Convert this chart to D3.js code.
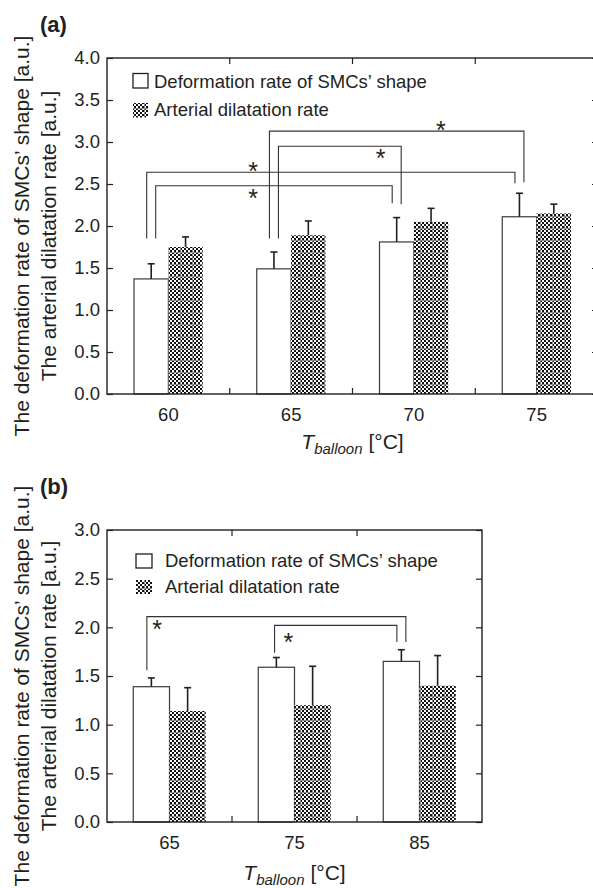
<!DOCTYPE html>
<html><head><meta charset="utf-8">
<script src="https://cdn.jsdelivr.net/npm/d3@7"></script>
<style>
body{margin:0;background:#fff}
svg{display:block}
text{font-family:"Liberation Sans",Arial,sans-serif;fill:#231f20}
</style>
</head><body>
<svg id="c" width="593" height="888"></svg>
<script>
// ---------- DATA ----------
const seriesNames = ["Deformation rate of SMCs\u2019 shape", "Arterial dilatation rate"];
const yLabelLine1 = "The deformation rate of SMCs\u2019 shape [a.u.]";
const yLabelLine2 = "The arterial dilatation rate [a.u.]";

// panel (a)
const catsA = ["60", "65", "70", "75"];
const deformA = [1.37, 1.49, 1.81, 2.11];
const deformErrA = [0.18, 0.20, 0.29, 0.28];
const dilatA = [1.75, 1.89, 2.05, 2.15];
const dilatErrA = [0.12, 0.17, 0.16, 0.11];
const yTicksA = [0, 0.5, 1.0, 1.5, 2.0, 2.5, 3.0, 3.5, 4.0];
// significance brackets: from/to category index, bracket level, leg end values
const bracketsA = [
  {from: 0, to: 3, level: 2.64, fromEnd: 1.85, toEnd: 2.51, fromSide: -1, toSide: -1, star: 0.69, starSide: "above"},
  {from: 0, to: 2, level: 2.48, fromEnd: 1.85, toEnd: 2.27, fromSide: 1, toSide: -1, star: 0.69, starSide: "below"},
  {from: 1, to: 3, level: 3.13, fromEnd: 1.85, toEnd: 2.52, fromSide: -1, toSide: 1, star: 2.22, starSide: "above"},
  {from: 1, to: 2, level: 2.95, fromEnd: 1.85, toEnd: 2.26, fromSide: 1, toSide: 1, star: 1.73, starSide: "below"}
];

// panel (b)
const catsB = ["65", "75", "85"];
const deformB = [1.39, 1.59, 1.65];
const deformErrB = [0.09, 0.10, 0.12];
const dilatB = [1.14, 1.20, 1.40];
const dilatErrB = [0.24, 0.40, 0.31];
const yTicksB = [0, 0.5, 1.0, 1.5, 2.0, 2.5, 3.0];
const bracketsB = [
  {from: 0, to: 2, level: 2.11, fromEnd: 1.56, toEnd: 1.85, fromSide: -1, toSide: 1, star: -0.10, starSide: "below"},
  {from: 1, to: 2, level: 2.02, fromEnd: 1.74, toEnd: 1.85, fromSide: -0.4, toSide: -1, star: 0.95, starSide: "below2"}
];

// ---------- DRAW ----------
const svg = d3.select("#c");
const defs = svg.append("defs");
const pat = defs.append("pattern").attr("id", "chk")
  .attr("patternUnits", "userSpaceOnUse").attr("width", 12).attr("height", 12);
pat.append("rect").attr("width", 12).attr("height", 12).attr("fill", "#fff");
for (let i = 0; i < 6; i++) for (let j = 0; j < 6; j++) {
  if ((i + j) % 2 === 0) pat.append("rect").attr("x", i * 2).attr("y", j * 2).attr("width", 2).attr("height", 2).attr("fill", "#111");
}
pat.append("line").attr("x1", 0.5).attr("x2", 0.5).attr("y1", 0).attr("y2", 12).attr("stroke", "#888").attr("stroke-width", 1);
pat.append("line").attr("y1", 0.5).attr("y2", 0.5).attr("x1", 0).attr("x2", 12).attr("stroke", "#888").attr("stroke-width", 1);

const INK = "#231f20";

function panel(cfg) {
  const g = svg.append("g");
  const x0 = d3.scaleBand().domain(cfg.cats).range([cfg.left, cfg.right]).padding(0);
  const step = x0.step();
  const gw = step * cfg.groupFrac;
  const x1 = d3.scaleBand().domain([0, 1]).range([0, gw]);
  const y = d3.scaleLinear().domain([0, cfg.ymax]).range([cfg.bottom, cfg.top]);
  const barX = (i, s) => x0(cfg.cats[i]) + (step - gw) / 2 + x1(s);
  const barC = (i, s) => barX(i, s) + x1.bandwidth() / 2;
  const catPos = d3.scaleLinear().domain([0, 1]).range([x0(cfg.cats[0]) + step / 2, x0(cfg.cats[0]) + step * 1.5]);

  // bars
  const series = [
    {vals: cfg.deform, errs: cfg.deformErr, s: 0},
    {vals: cfg.dilat, errs: cfg.dilatErr, s: 1}
  ];
  series.forEach(se => {
    g.selectAll(null).data(se.vals).enter().append("rect")
      .attr("x", (d, i) => barX(i, se.s))
      .attr("y", d => y(d))
      .attr("width", x1.bandwidth())
      .attr("height", d => y(0) - y(d))
      .attr("fill", se.s === 0 ? "#fff" : "url(#chk)")
      .attr("stroke", se.s === 0 ? "#3a3a3a" : "none")
      .attr("stroke-width", 1.2);
  });
  // error bars
  series.forEach(se => {
    se.vals.forEach((v, i) => {
      const cx = barC(i, se.s);
      g.append("line").attr("x1", cx).attr("x2", cx).attr("y1", y(v)).attr("y2", y(v + se.errs[i]))
        .attr("stroke", INK).attr("stroke-width", 1.6);
      g.append("line").attr("x1", cx - 3.5).attr("x2", cx + 3.5).attr("y1", y(v + se.errs[i])).attr("y2", y(v + se.errs[i]))
        .attr("stroke", INK).attr("stroke-width", 1.6);
    });
  });

  // brackets
  cfg.brackets.forEach(b => {
    const xa = barC(b.from, 0) + b.fromSide * 4.5;
    const xb = barC(b.to, 0) + b.toSide * 4.5;
    g.append("path")
      .attr("d", `M${xa},${y(b.fromEnd)}V${y(b.level)}H${xb}V${y(b.toEnd)}`)
      .attr("fill", "none").attr("stroke", "#333").attr("stroke-width", 1.1);
    const sy = y(b.level) + (b.starSide === "above" ? -6 : b.starSide === "below" ? 7 : 12);
    g.append("text").attr("x", catPos(b.star)).attr("y", sy + 14)
      .attr("text-anchor", "middle").style("font-size", "25px").text("*");
  });

  // frame
  g.append("rect").attr("x", cfg.left).attr("y", cfg.top)
    .attr("width", cfg.right - cfg.left).attr("height", cfg.bottom - cfg.top)
    .attr("fill", "none").attr("stroke", INK).attr("stroke-width", 1.4);

  // y axes
  const ya = g.append("g").attr("transform", `translate(${cfg.left},0)`)
    .call(d3.axisLeft(y).tickValues(cfg.yticks).tickSize(-6).tickSizeOuter(0).tickPadding(7).tickFormat(d3.format(".1f")));
  ya.select(".domain").remove();
  ya.selectAll("line").attr("stroke", INK).attr("stroke-width", 1.2);
  ya.selectAll("text").style("font-size", "18.5px").attr("fill", INK);
  const yr = g.append("g").attr("transform", `translate(${cfg.right},0)`)
    .call(d3.axisRight(y).tickValues(cfg.yticks).tickSize(-6).tickSizeOuter(0).tickFormat(""));
  yr.select(".domain").remove();
  yr.selectAll("line").attr("stroke", INK).attr("stroke-width", 1.2);

  // x axis
  const xa = g.append("g").attr("transform", `translate(0,${cfg.bottom})`)
    .call(d3.axisBottom(x0).tickSize(0).tickPadding(14));
  xa.select(".domain").remove();
  xa.selectAll("text").style("font-size", "18.5px").attr("fill", INK);
  // category boundary ticks (top and bottom, inward)
  cfg.cats.slice(0, -1).forEach(c => {
    const bx = x0(c) + step;
    g.append("line").attr("x1", bx).attr("x2", bx).attr("y1", cfg.bottom).attr("y2", cfg.bottom - 6).attr("stroke", INK).attr("stroke-width", 1.2);
    g.append("line").attr("x1", bx).attr("x2", bx).attr("y1", cfg.top).attr("y2", cfg.top + 6).attr("stroke", INK).attr("stroke-width", 1.2);
  });

  // x title
  const xt = g.append("text").attr("x", (cfg.left + Math.min(cfg.right, 598)) / 2).attr("y", cfg.bottom + cfg.xTitleOff)
    .attr("text-anchor", "middle").style("font-size", "21px");
  xt.append("tspan").style("font-style", "italic").text("T");
  xt.append("tspan").style("font-style", "italic").style("font-size", "15px").attr("dy", 5).text("balloon");
  xt.append("tspan").attr("dy", -5).text(" [\u00b0C]");

  // y titles
  const cy = (cfg.top + cfg.bottom) / 2 + 10;
  g.append("text").attr("transform", `translate(29,${cy}) rotate(-90)`).attr("text-anchor", "middle")
    .style("font-size", "21px").text(yLabelLine1);
  g.append("text").attr("transform", `translate(56,${cy}) rotate(-90)`).attr("text-anchor", "middle")
    .style("font-size", "21px").text(yLabelLine2);

  // panel label
  g.append("text").attr("x", 40).attr("y", cfg.labelY).style("font-size", "22px").style("font-weight", "bold").text(cfg.label);

  // legend
  const L = cfg.legend;
  g.append("rect").attr("x", L.x).attr("y", L.y1).attr("width", L.w).attr("height", L.h)
    .attr("fill", "#fff").attr("stroke", INK).attr("stroke-width", 1.3);
  g.append("rect").attr("x", L.x).attr("y", L.y2).attr("width", L.w).attr("height", L.h)
    .attr("fill", "url(#chk)");
  g.append("text").attr("x", L.tx).attr("y", L.b1).style("font-size", "18.5px").text(seriesNames[0]);
  g.append("text").attr("x", L.tx).attr("y", L.b2).style("font-size", "18.5px").text(seriesNames[1]);
}

panel({
  cats: catsA, deform: deformA, deformErr: deformErrA, dilat: dilatA, dilatErr: dilatErrA,
  yticks: yTicksA, ymax: 4, brackets: bracketsA,
  left: 107, right: 598, top: 58, bottom: 394, groupFrac: 0.56, xTitleOff: 55,
  label: "(a)", labelY: 32,
  legend: {x: 133, y1: 73.5, y2: 103, w: 15, h: 14.5, tx: 154, b1: 88, b2: 116}
});
panel({
  cats: catsB, deform: deformB, deformErr: deformErrB, dilat: dilatB, dilatErr: dilatErrB,
  yticks: yTicksB, ymax: 3, brackets: bracketsB,
  left: 107, right: 482, top: 530, bottom: 822, groupFrac: 0.58, xTitleOff: 58,
  label: "(b)", labelY: 494,
  legend: {x: 136, y1: 554, y2: 580, w: 16, h: 14, tx: 165, b1: 567, b2: 593}
});
</script>
</body></html>
